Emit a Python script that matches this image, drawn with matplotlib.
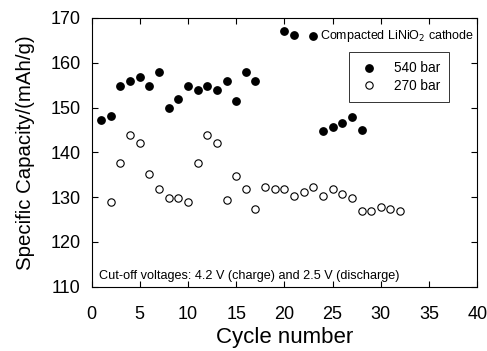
import matplotlib
matplotlib.use('Agg')
import matplotlib.pyplot as plt

plt.rcParams['font.family'] = ['Liberation Sans', 'DejaVu Sans']

# capacity per cycle, 540 bar pressed cathode
cyc_540 = [1, 2, 3, 4, 5, 6, 7, 8, 9, 10, 11, 12, 13, 14, 15, 16, 17,
           20, 21, 24, 25, 26, 27, 28]
cap_540 = [147.2, 148.2, 154.9, 155.9, 156.8, 154.9, 158.0, 149.8, 151.9, 154.9,
           153.9, 154.9, 153.9, 155.9, 151.5, 157.9, 155.9,
           167.0, 166.1, 144.8, 145.7, 146.6, 147.8, 144.9]

# capacity per cycle, 270 bar pressed cathode
cyc_270 = list(range(2, 33))
cap_270 = [128.9, 137.6, 143.9, 142.0, 135.2, 131.8, 129.8, 129.8, 128.9, 137.6,
           143.9, 142.0, 129.4, 134.8, 131.8, 127.4, 132.2, 131.8, 131.8, 130.3,
           131.2, 132.2, 130.3, 131.8, 130.8, 129.8, 126.9, 126.9, 127.8, 127.4,
           126.9]

fig = plt.figure(figsize=(4.87, 3.51), dpi=100)
ax = fig.add_axes([0.188, 0.183, 0.792, 0.766])

ax.plot(cyc_540, cap_540, 'o', color='black', markersize=5.3, label='540 bar')
ax.plot(cyc_270, cap_270, 'o', markerfacecolor='white', markeredgecolor='black',
        markeredgewidth=0.8, markersize=5.3, label='270 bar')

ax.set_xlim(0, 40)
ax.set_ylim(110, 170)
ax.set_xticks(range(0, 41, 5))
ax.set_yticks(range(110, 171, 10))
ax.tick_params(direction='in', top=True, right=True, length=4, width=0.8,
               labelsize=13)
ax.tick_params(axis='x', pad=14)
ax.tick_params(axis='y', pad=8)
for s in ax.spines.values():
    s.set_linewidth(0.8)

ax.set_xlabel('Cycle number', fontsize=16, labelpad=3)
ax.set_ylabel('Specific Capacity/(mAh/g)', fontsize=14.7, labelpad=11)

# bullet + label for the cathode
ax.plot([23], [166.0], 'o', color='black', markersize=5.3)
ax.text(23.7, 166.0, 'Compacted LiNiO$_2$ cathode', fontsize=9,
        va='center', ha='left')

ax.text(0.8, 112.3, 'Cut-off voltages: 4.2 V (charge) and 2.5 V (discharge)',
        fontsize=9.1, va='center', ha='left')

leg = ax.legend(loc='upper right', bbox_to_anchor=(0.928, 0.874), fontsize=9.8,
                borderaxespad=0, fancybox=False, frameon=True, edgecolor='black',
                handletextpad=1.0, borderpad=0.7, labelspacing=0.25,
                handlelength=1.6)
leg.get_frame().set_linewidth(0.7)

fig.savefig('out.png', dpi=100)
